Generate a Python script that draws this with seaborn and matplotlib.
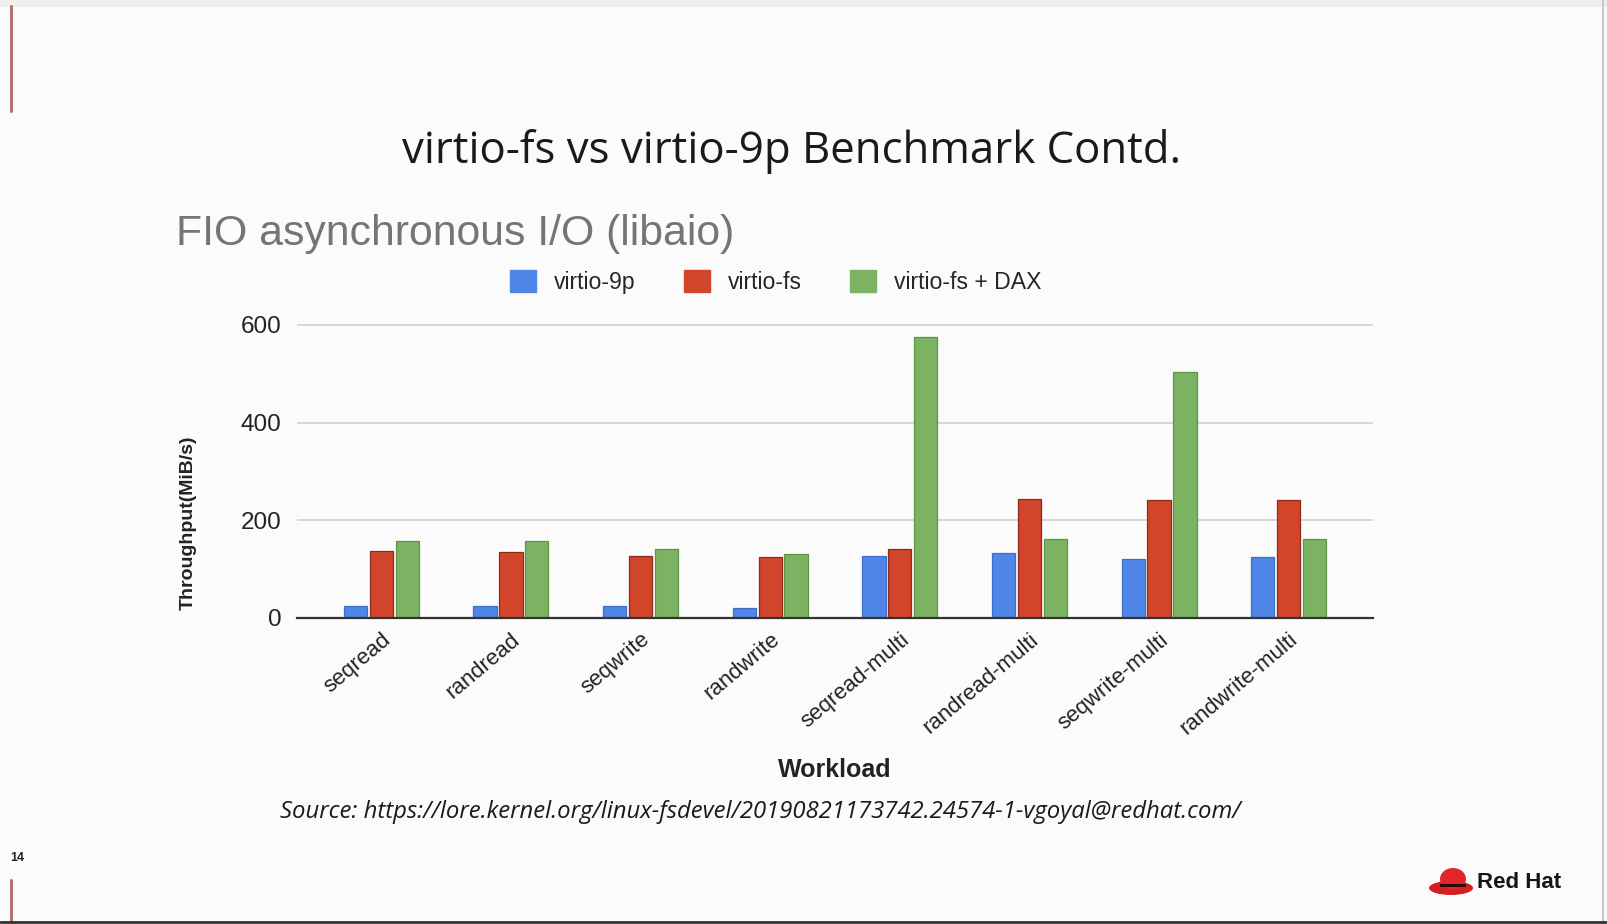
import matplotlib
matplotlib.use("Agg")
import matplotlib.pyplot as plt
from matplotlib.patches import Patch, Ellipse, Rectangle
from matplotlib.lines import Line2D
import seaborn as sns
import pandas as pd

# ---- data ----
workloads = ['seqread', 'randread', 'seqwrite', 'randwrite',
             'seqread-multi', 'randread-multi', 'seqwrite-multi', 'randwrite-multi']
series_names = ['virtio-9p', 'virtio-fs', 'virtio-fs + DAX']
virtio_9p = [24, 24, 24, 20, 126, 134, 120, 124]
virtio_fs = [137, 135, 127, 124, 141, 243, 241, 241]
virtio_fs_dax = [158, 158, 141, 131, 575, 162, 503, 162]
y_ticks = [0, 200, 400, 600]

colors = ['#4f86e8', '#d1452b', '#7cb362']
edge_colors = ['#3d6fc8', '#8e2a18', '#5f9448']

rows = []
for name, vals in zip(series_names, [virtio_9p, virtio_fs, virtio_fs_dax]):
    for w, v in zip(workloads, vals):
        rows.append({'Workload': w, 'Series': name, 'Throughput': v})
df = pd.DataFrame(rows)

sns.set_theme(style='white')
plt.rcParams['font.family'] = ['Liberation Sans', 'DejaVu Sans']

W, H = 1608, 924
fig = plt.figure(figsize=(W / 100, H / 100), dpi=100, facecolor='#fbfbfb')

def fx(x):
    return x / W

def fy(y):
    return 1 - y / H

ax = fig.add_axes([fx(297), fy(618), fx(1076), (618 - 324) / H])
ax.set_facecolor('#fbfbfb')

sns.barplot(data=df, x='Workload', y='Throughput', hue='Series', order=workloads,
            hue_order=series_names, palette=colors, width=0.6, gap=0.1,
            saturation=1, legend=False, ax=ax, zorder=3)
for cont, ec in zip(ax.containers, edge_colors):
    for bar in cont:
        bar.set_edgecolor(ec)
        bar.set_linewidth(0.9)

ax.set_xlim(-0.65, 7.65)
ax.set_ylim(0, 602)
ax.set_yticks(y_ticks)
ax.set_yticklabels([str(t) for t in y_ticks], fontsize=17.5, color='#222222')
ax.grid(axis='y', color='#d4d4d4', linewidth=1.3, zorder=0)
ax.grid(axis='x', visible=False)
for s in ['top', 'right', 'left']:
    ax.spines[s].set_visible(False)
ax.spines['bottom'].set_color('#333333')
ax.spines['bottom'].set_linewidth(1.6)
ax.spines['bottom'].set_zorder(4)
ax.tick_params(axis='y', length=0, pad=11)
ax.tick_params(axis='x', length=0, pad=8)
ax.set_xticks(range(len(workloads)))
ax.set_xticklabels(workloads, rotation=40, ha='right', rotation_mode='anchor',
                   fontsize=16, color='#222222')
ax.set_xlabel('')
ax.set_ylabel('')

# axis titles
fig.text(fx(835), fy(770), 'Workload', ha='center', va='center', fontsize=18,
         fontweight='bold', color='#222222')
fig.text(fx(188), fy(523), 'Throughput(MiB/s)', ha='center', va='center', rotation=90,
         fontsize=14, fontweight='bold', color='#222222')

# chart title and legend
fig.text(fx(176), fy(234), 'FIO asynchronous I/O (libaio)', ha='left', va='center',
         fontsize=30.8, color='#757575')
handles = [Patch(facecolor=c, edgecolor=c) for c in colors]
fig.legend(handles, series_names, loc='center', bbox_to_anchor=(fx(776), fy(282)),
           ncol=3, frameon=False, fontsize=16.6, handlelength=1.1, handleheight=1.1,
           columnspacing=2.1, handletextpad=0.8)

# slide title
fig.text(fx(792), fy(152), 'virtio-fs vs virtio-9p Benchmark Contd.', ha='center',
         va='center', fontsize=31.5, color='#1a1a1a', family=['Open Sans', 'DejaVu Sans'])

# source
fig.text(fx(760), fy(812),
         'Source: https://lore.kernel.org/linux-fsdevel/20190821173742.24574-1-vgoyal@redhat.com/',
         ha='center', va='center', fontsize=17.2, style='italic', color='#1a1a1a',
         family=['Open Sans', 'DejaVu Sans'])

# slide decorations
fig.add_artist(Rectangle((0, fy(7)), 1, 7 / H, transform=fig.transFigure,
                         facecolor='#efefef', edgecolor='none'))
fig.add_artist(Line2D([fx(11), fx(11)], [fy(6), fy(111)], color='#b07272', lw=2.2))
fig.add_artist(Line2D([fx(11), fx(11)], [fy(880), fy(922)], color='#b07272', lw=2.2))
fig.add_artist(Line2D([fx(1603), fx(1603)], [fy(0), fy(924)], color='#c8c8c8', lw=1.5))
fig.add_artist(Line2D([0, 1], [fy(922), fy(922)], color='#333333', lw=2))
fig.text(fx(10), fy(858), '14', ha='left', va='center', fontsize=9, fontweight='bold',
         color='#222222')

# Red Hat logo
lax = fig.add_axes([fx(1428), fy(900), fx(46), 36 / H])
lax.set_xlim(0, 46)
lax.set_ylim(0, 36)
lax.set_aspect('equal')
lax.axis('off')
lax.add_patch(Ellipse((23, 12), 44, 14, facecolor='#d71e1e', edgecolor='none'))
lax.add_patch(Ellipse((25, 21), 26, 22, facecolor='#e02626', edgecolor='none'))
lax.add_patch(Rectangle((12, 13), 26, 3, facecolor='#2a0a0a', edgecolor='none'))
fig.text(fx(1477), fy(882), 'Red Hat', ha='left', va='center', fontsize=16,
         fontweight='bold', color='#151515')

fig.savefig('out.png', dpi=100, facecolor=fig.get_facecolor())
